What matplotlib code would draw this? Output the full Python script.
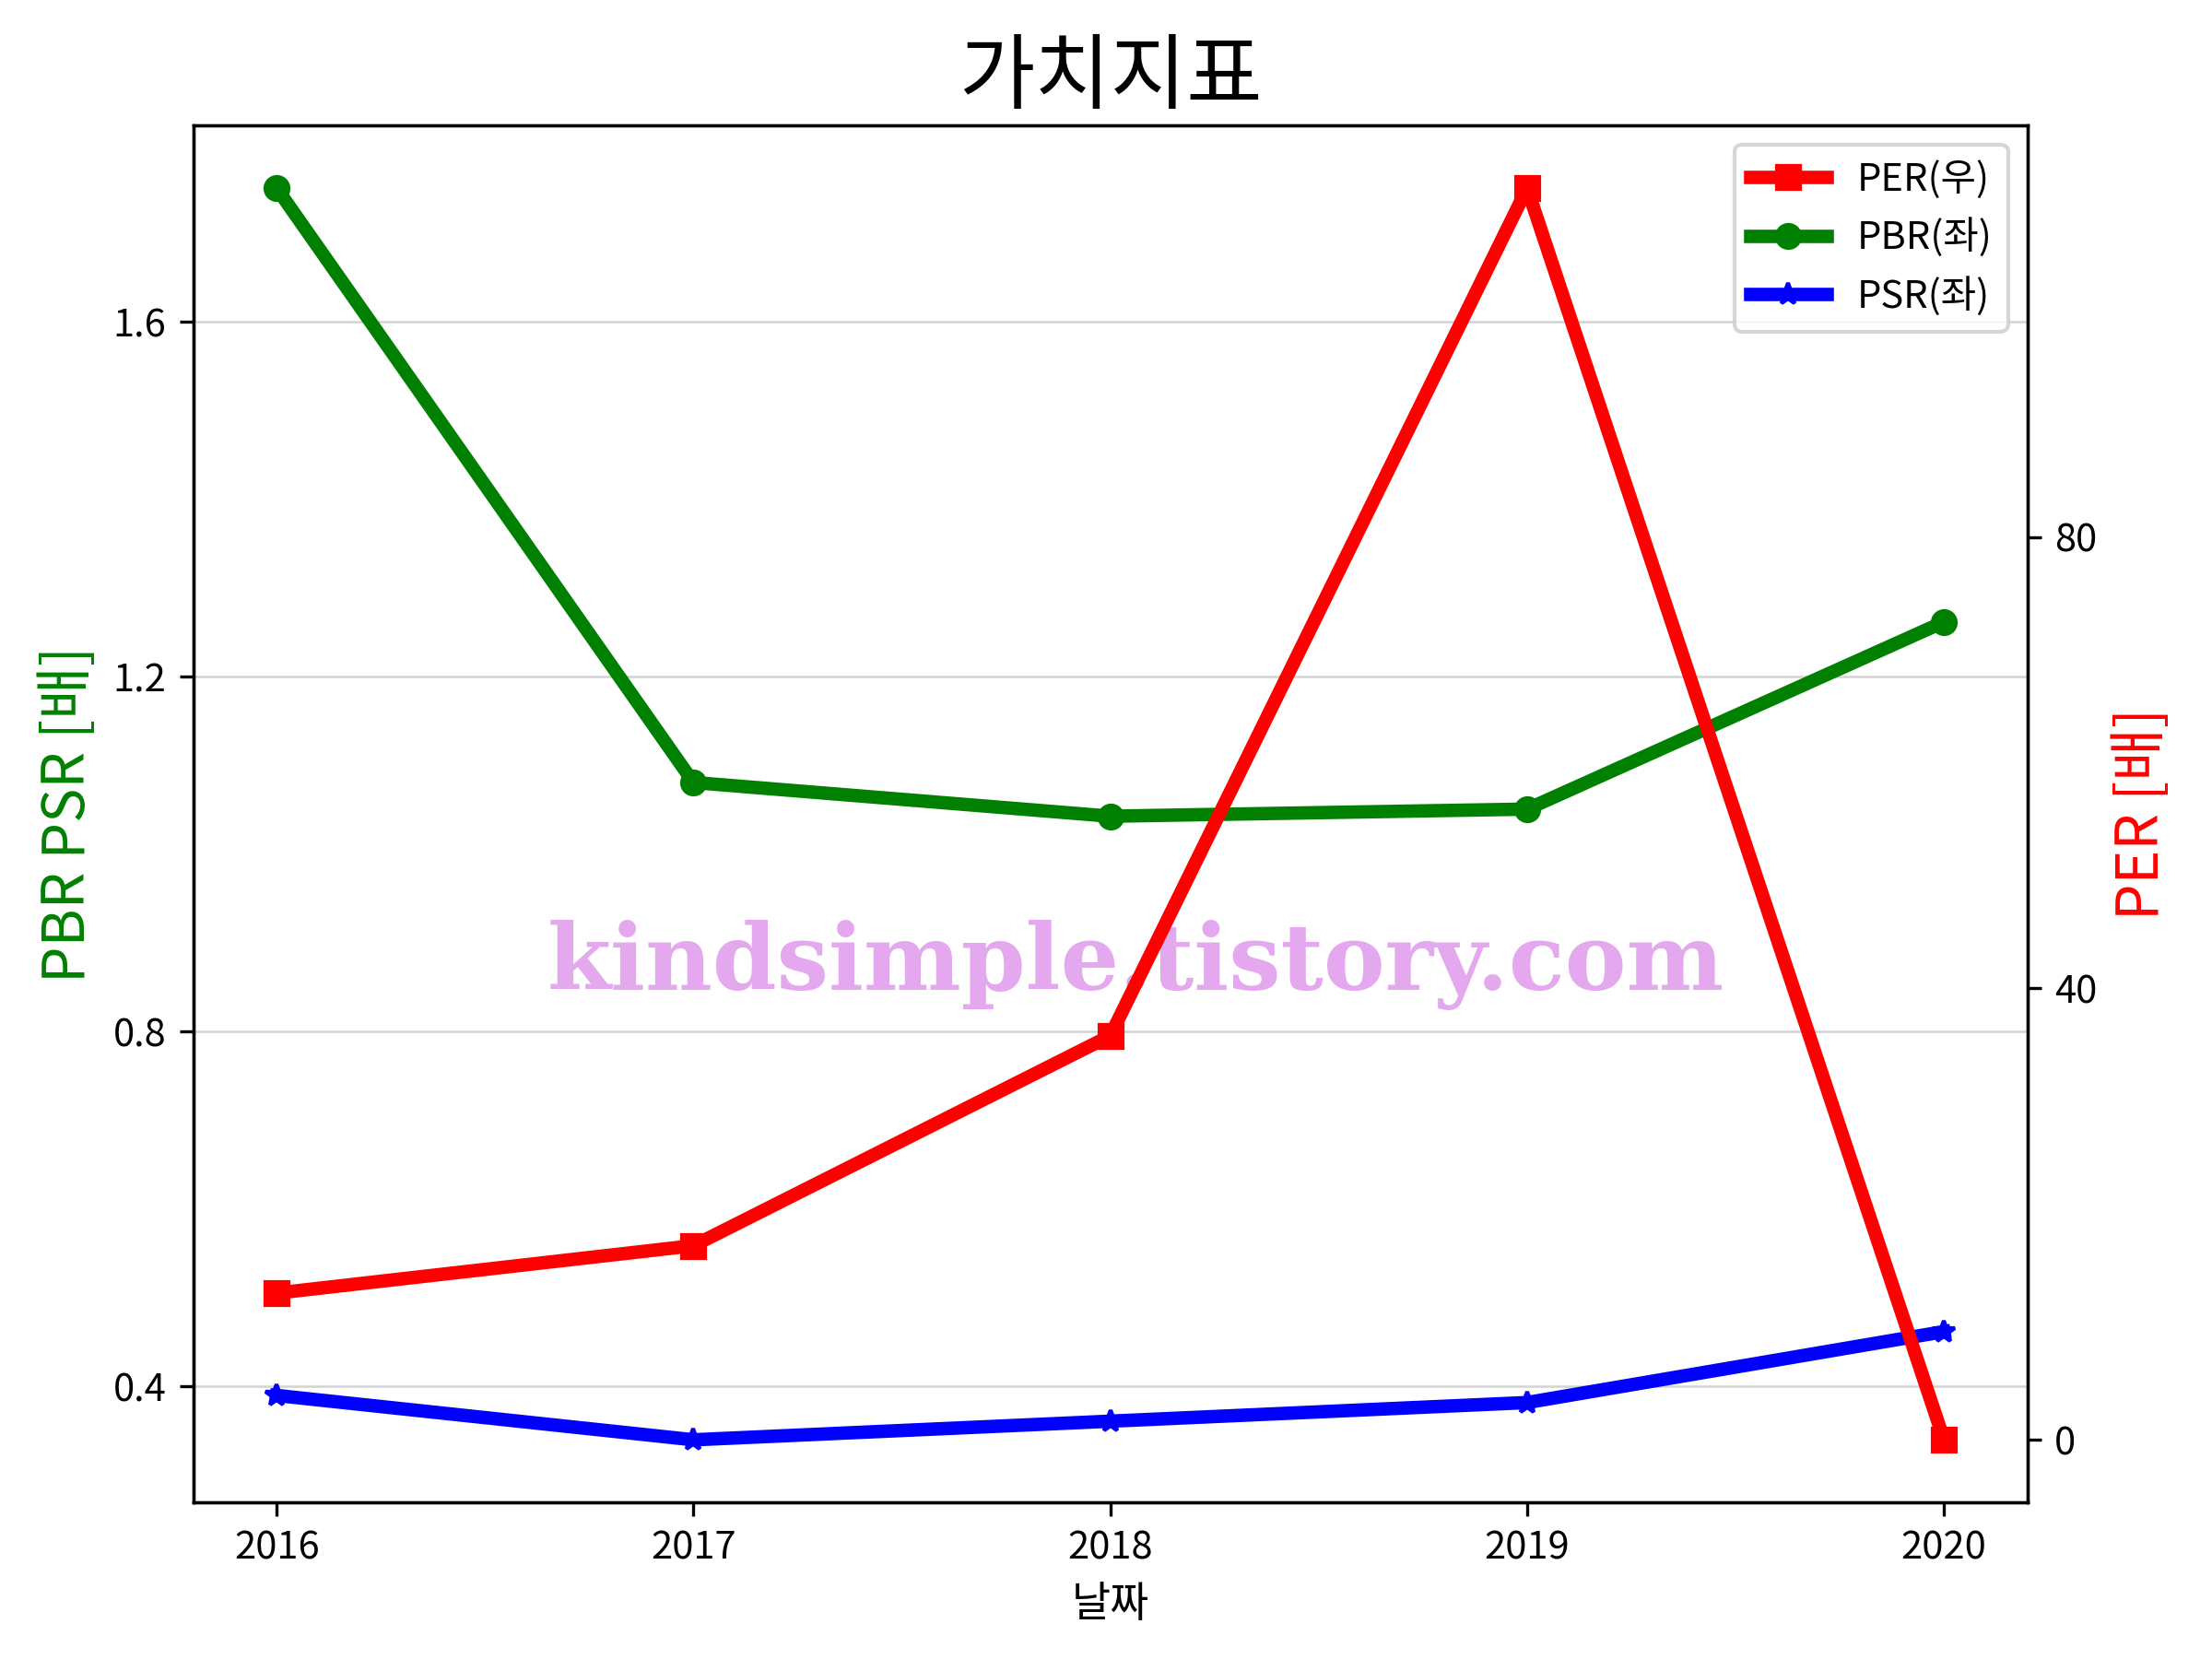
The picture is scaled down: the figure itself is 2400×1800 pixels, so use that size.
import numpy as np
import matplotlib.pyplot as plt

plt.rcParams['font.family'] = ['Noto Sans CJK KR', 'DejaVu Sans']
plt.rcParams['axes.unicode_minus'] = False

years = ['2016', '2017', '2018', '2019', '2020']
per = [13.0, 17.2, 35.8, 110.9, 0.0]
pbr = [1.751, 1.081, 1.043, 1.051, 1.262]
psr = [0.390, 0.340, 0.361, 0.382, 0.462]

x = np.arange(len(years))

fig, ax = plt.subplots(figsize=(8, 6), dpi=300)
ax2 = ax.twinx()

l2, = ax.plot(x, pbr, color='green', marker='o', lw=3.5, label='PBR(좌)')
l3, = ax.plot(x, psr, color='blue', marker='*', lw=3.5, label='PSR(좌)')
l1, = ax2.plot(x, per, color='red', marker='s', lw=3.5, label='PER(우)')

ax.set_xticks(x)
ax.set_xticklabels(years)
ax.set_yticks([0.4, 0.8, 1.2, 1.6])
ax2.set_yticks([0, 40, 80])
ax.tick_params(labelsize=10)
ax2.tick_params(labelsize=10)
ax.grid(axis='y', color='lightgray', lw=0.6)

ax.set_xlabel('날짜', fontsize=11)
ax.set_ylabel('PBR PSR [배]', color='green', fontsize=15)
ax2.set_ylabel('PER [배]', color='red', fontsize=15)
ax.set_title('가치지표', fontsize=21.5)

ax.text(0.514, 0.39, 'kindsimple.tistory.com', transform=ax.transAxes,
        ha='center', va='center', fontsize=24, fontweight='bold',
        family='DejaVu Serif', color='#E4A8EE')

ax2.legend(handles=[l1, l2, l3], loc='upper right', fontsize=10)

fig.subplots_adjust(left=0.0874, right=0.9165, top=0.9243, bottom=0.0944)
fig.savefig('out.png')
